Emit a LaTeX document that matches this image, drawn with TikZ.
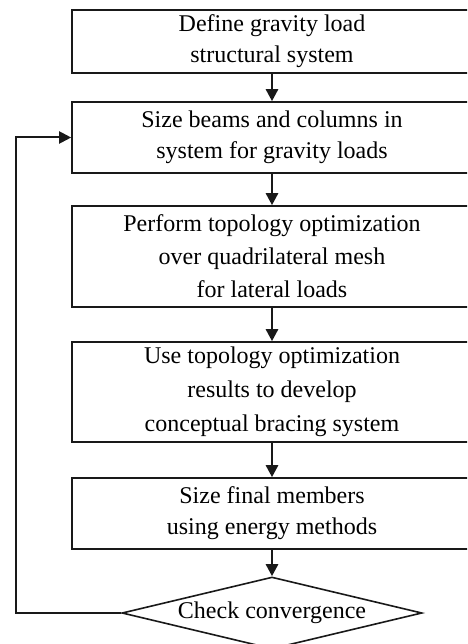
\documentclass[tikz,border=0pt]{standalone}
\usepackage{fontspec}
\setmainfont{Liberation Serif}
\usetikzlibrary{arrows.meta,shapes.geometric}

\tikzset{
  stepbox/.style={draw=black!90,line width=1.6pt,minimum width=400pt,inner sep=0pt,
    align=center,font=\fontsize{24}{31}\selectfont},
  checkbox/.style={draw=black!90,diamond,line width=1.6pt,aspect=4.2,minimum width=300pt,
    minimum height=72pt,inner sep=0pt,font=\fontsize{24}{31}\selectfont},
  flow/.style={draw=black!90,line width=2.6pt,-{Triangle[length=12pt,width=12pt]}},
  loopback/.style={draw=black!90,line width=2pt,-{Triangle[length=12pt,width=12pt]}}
}

\begin{document}
\begin{tikzpicture}[x=1pt,y=-1pt]
\useasboundingbox (0,0) rectangle (467,644);
\clip (0,0) rectangle (467,644);

\node[stepbox,minimum height=63pt] (define) at (272,41.5) {Define gravity load\\structural system};
\node[stepbox,minimum height=71pt] (gsize) at (272,137.5) {Size beams and columns in\\system for gravity loads};
\node[stepbox,minimum height=101pt,font=\fontsize{24}{33}\selectfont] (topo) at (272,256.5) {Perform topology optimization\\over quadrilateral mesh\\for lateral loads};
\node[stepbox,minimum height=100pt,font=\fontsize{24}{34}\selectfont] (brace) at (272,392) {Use topology optimization\\results to develop\\conceptual bracing system};
\node[stepbox,minimum height=71pt] (final) at (272,513.5) {Size final members\\using energy methods};
\node[checkbox] (check) at (272,613) {Check convergence};

\draw[flow] (define) -- (gsize);
\draw[flow] (gsize) -- (topo);
\draw[flow] (topo) -- (brace);
\draw[flow] (brace) -- (final);
\draw[flow] (final) -- (check);

\coordinate (ret) at (16,613);
\draw[loopback] (check.west) -- (ret) |- (gsize.west);
\end{tikzpicture}
\end{document}
